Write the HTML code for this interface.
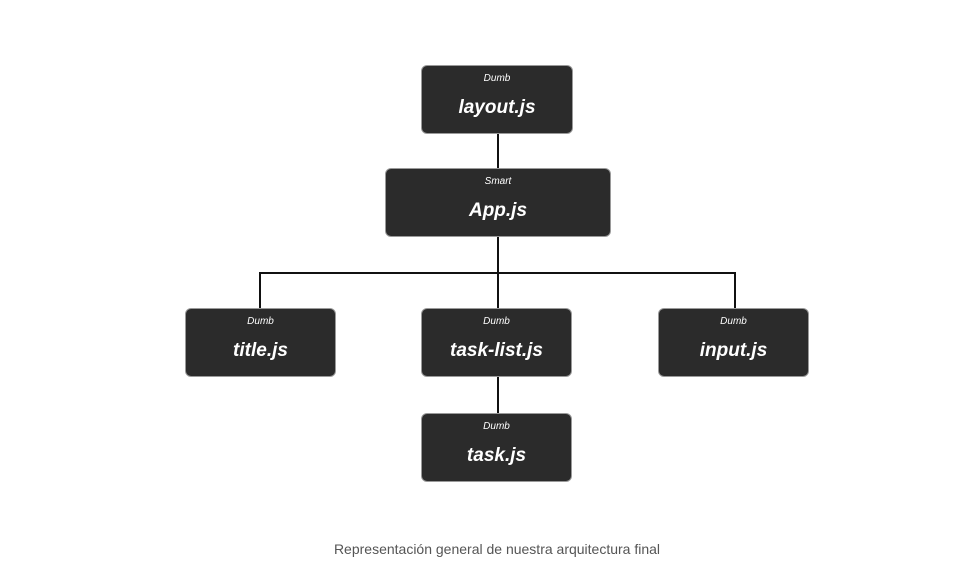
<!DOCTYPE html>
<html><head><style>
body{margin:0;width:962px;height:572px;background:#fff;position:relative;overflow:hidden;font-family:"Liberation Sans",sans-serif}
.b{position:absolute;background:#2b2b2b;border:1px solid #9a9a9a;border-radius:6px;box-sizing:border-box;color:#fff;text-align:center;font-style:italic}
.b .s{position:absolute;left:0;right:0;top:7px;font-size:10px}
.b .m{position:absolute;left:0;right:0;top:31px;font-size:19px;font-weight:bold}
.l{position:absolute;background:#111}
.cap{position:absolute;left:0;width:994px;top:541px;text-align:center;font-size:14px;color:#555}
</style></head><body>
<div class="l" style="left:497px;top:133px;width:2px;height:36px"></div>
<div class="l" style="left:497px;top:236px;width:2px;height:73px"></div>
<div class="l" style="left:259px;top:272px;width:477px;height:2px"></div>
<div class="l" style="left:259px;top:272px;width:2px;height:37px"></div>
<div class="l" style="left:734px;top:272px;width:2px;height:37px"></div>
<div class="l" style="left:497px;top:376px;width:2px;height:38px"></div>
<div class="b" style="left:421px;top:65px;width:152px;height:69px"><div class="s">Dumb</div><div class="m">layout.js</div></div>
<div class="b" style="left:385px;top:168px;width:226px;height:69px"><div class="s">Smart</div><div class="m">App.js</div></div>
<div class="b" style="left:185px;top:308px;width:151px;height:69px"><div class="s">Dumb</div><div class="m">title.js</div></div>
<div class="b" style="left:421px;top:308px;width:151px;height:69px"><div class="s">Dumb</div><div class="m">task-list.js</div></div>
<div class="b" style="left:658px;top:308px;width:151px;height:69px"><div class="s">Dumb</div><div class="m">input.js</div></div>
<div class="b" style="left:421px;top:413px;width:151px;height:69px"><div class="s">Dumb</div><div class="m">task.js</div></div>
<div class="cap">Representación general de nuestra arquitectura final</div>
</body></html>
